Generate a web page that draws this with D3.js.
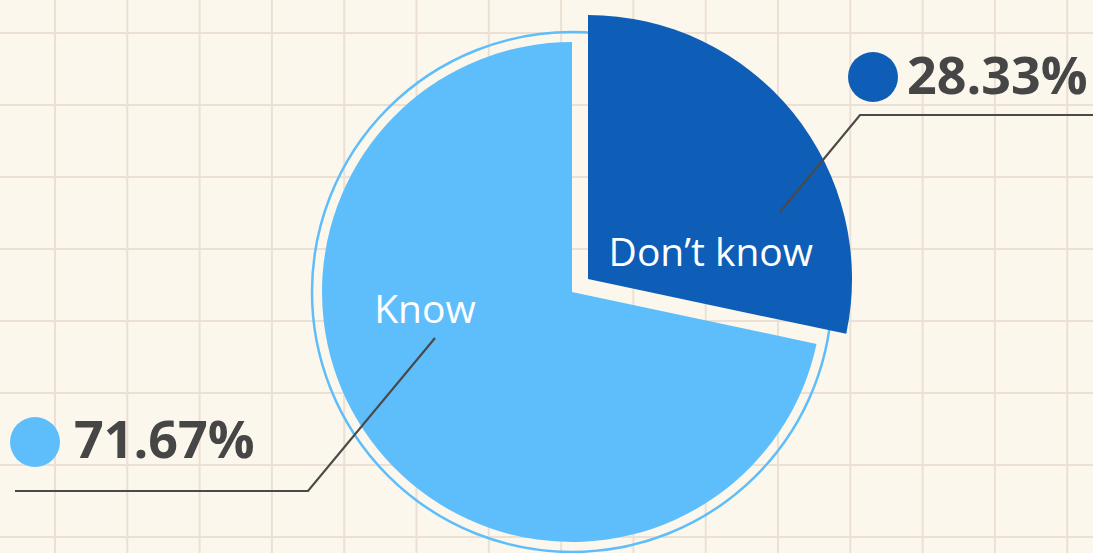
<!DOCTYPE html>
<html>
<head>
<meta charset="utf-8">
<script src="https://cdn.jsdelivr.net/npm/d3@7"></script>
<style>
  html, body { margin: 0; padding: 0; background: #fcf7ec; }
  svg { display: block; }
</style>
</head>
<body>
<svg id="chart" width="1093" height="553"></svg>
<script>
// ---- data ----
const categories = ["Don’t know", "Know"];
const values = [28.33, 71.67];
const percentLabels = ["28.33%", "71.67%"];
const colors = ["#0e5db6", "#5ebefc"];

// ---- layout ----
const W = 1093, H = 553;
const cx = 572, cy = 292;
const radius = 250;
const ringRadius = 260;
const explode = 20.6;
const explodedRadius = 264;

const svg = d3.select("#chart");

// background + grid
svg.append("rect").attr("width", W).attr("height", H).attr("fill", "#fcf7ec");
const grid = svg.append("g");
const gx = d3.range(55, W, 72.3);
const gy = d3.range(33, H, 72);
grid.selectAll("line.v").data(gx).join("line").attr("class", "v")
  .attr("x1", d => d).attr("x2", d => d).attr("y1", 0).attr("y2", H)
  .attr("stroke", "#ebe0d3").attr("stroke-width", 2);
grid.selectAll("line.h").data(gy).join("line").attr("class", "h")
  .attr("y1", d => d).attr("y2", d => d).attr("x1", 0).attr("x2", W)
  .attr("stroke", "#ebe0d3").attr("stroke-width", 2);

const pie = d3.pie().sort(null).value(d => d)(values);

const g = svg.append("g").attr("transform", `translate(${cx},${cy})`);

// outer ring
g.append("circle").attr("r", ringRadius).attr("fill", "none")
  .attr("stroke", colors[1]).attr("stroke-width", 2.5);

const arcNormal = d3.arc().innerRadius(0).outerRadius(radius);
const arcBig = d3.arc().innerRadius(0).outerRadius(explodedRadius);

g.selectAll("path.slice").data(pie).join("path")
  .attr("class", "slice")
  .attr("fill", (d, i) => colors[i])
  .attr("transform", (d, i) => {
    if (i !== 0) return null;
    const a = (d.startAngle + d.endAngle) / 2;
    return `translate(${Math.sin(a) * explode},${-Math.cos(a) * explode})`;
  })
  .attr("d", (d, i) => i === 0 ? arcBig(d) : arcNormal(d));

// labels inside slices (polar placement relative to center)
const inner = [
  { angle: 73.2, r: 145, size: 39 },
  { angle: 263.8, r: 148, size: 39 }
];
const pos = (ang, r) => [Math.sin(ang * Math.PI / 180) * r, -Math.cos(ang * Math.PI / 180) * r];

g.selectAll("text.inner").data(pie).join("text")
  .attr("class", "inner")
  .attr("x", (d, i) => pos(inner[i].angle, inner[i].r)[0])
  .attr("y", (d, i) => pos(inner[i].angle, inner[i].r)[1])
  .attr("text-anchor", "middle").attr("dominant-baseline", "central")
  .attr("fill", "#ffffff")
  .attr("font-family", "'Open Sans', 'Noto Sans', sans-serif")
  .attr("font-size", (d, i) => inner[i].size)
  .text((d, i) => categories[i]);

// leader lines + outside labels
const outside = [
  { from: [780, 212], elbow: [860, 115], end: [W, 115], dot: [873, 77], textX: 907, baseline: 94 },
  { from: [435, 338], elbow: [308, 491], end: [15, 491], dot: [35, 442], textX: 74, baseline: 458 }
];

svg.selectAll("path.leader").data(pie).join("path")
  .attr("class", "leader")
  .attr("fill", "none").attr("stroke", "#4a4a4a").attr("stroke-width", 2.2)
  .attr("d", (d, i) => d3.line()([outside[i].from, outside[i].elbow, outside[i].end]));

svg.selectAll("circle.dot").data(pie).join("circle")
  .attr("class", "dot")
  .attr("cx", (d, i) => outside[i].dot[0]).attr("cy", (d, i) => outside[i].dot[1])
  .attr("r", 25).attr("fill", (d, i) => colors[i]);

svg.selectAll("text.pct").data(pie).join("text")
  .attr("class", "pct")
  .attr("x", (d, i) => outside[i].textX).attr("y", (d, i) => outside[i].baseline)
  .attr("fill", "#464646")
  .attr("font-family", "'Open Sans', 'Noto Sans', sans-serif")
  .attr("font-weight", 700)
  .attr("font-size", 52)
  .text((d, i) => percentLabels[i]);
</script>
</body>
</html>
